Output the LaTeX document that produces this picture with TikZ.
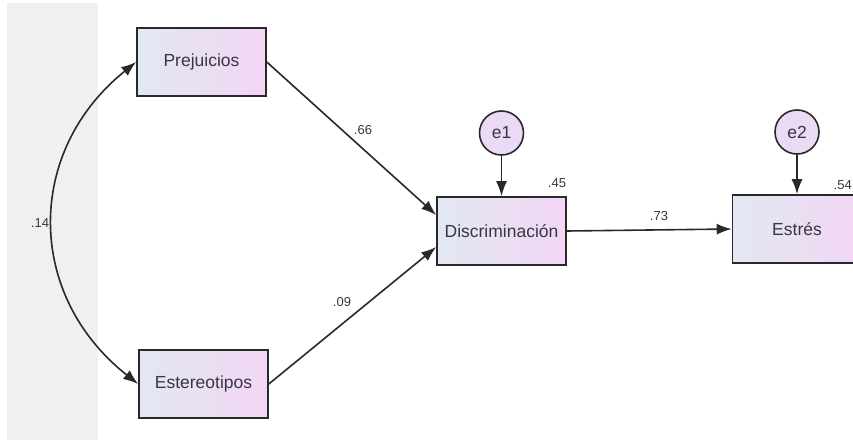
\documentclass[tikz,border=0pt]{standalone}
\usepackage{fontspec}
\setmainfont{Liberation Sans}
\usetikzlibrary{arrows.meta}
\definecolor{stripgrey}{RGB}{240,240,240}
\definecolor{boxleft}{RGB}{226,232,242}
\definecolor{boxright}{RGB}{242,214,244}
\definecolor{circfill}{RGB}{234,218,244}
\definecolor{edgecol}{RGB}{40,40,45}
\definecolor{txtcol}{RGB}{55,55,65}
\tikzset{
  varbox/.style={draw=edgecol, line width=1.6pt, left color=boxleft, right color=boxright,
    minimum width=129pt, minimum height=68pt, inner sep=0pt, text=txtcol,
    font=\fontsize{17.5}{20}\selectfont},
  errcirc/.style={draw=edgecol, line width=1.6pt, circle, fill=circfill, minimum size=44pt,
    inner sep=0pt, text=txtcol, font=\fontsize{17.5}{20}\selectfont},
  path/.style={draw=edgecol, line width=1.6pt, -{Latex[length=15pt,width=11pt]}},
  coef/.style={text=txtcol, font=\fontsize{13}{15}\selectfont, inner sep=0pt}
}
\begin{document}
\begin{tikzpicture}[x=1pt,y=-1pt]
\useasboundingbox (0,0) rectangle (853,441);
\clip (0,0) rectangle (853,441);
\fill[stripgrey] (7,3) rectangle (98,440);
\node[varbox] (P) at (201.5,62) {Prejuicios};
\node[varbox] (E) at (203.5,384) {Estereotipos};
\node[varbox] (D) at (501.5,231) {Discriminación};
\node[varbox] (S) at (797,229) {Estrés};
\node[errcirc] (e1) at (501.5,133) {e1};
\node[errcirc] (e2) at (797,132) {e2};
\draw[draw=edgecol, line width=1.6pt, {Latex[length=15pt,width=11pt]}-{Latex[length=15pt,width=11pt]}]
  (P.west) .. controls +(-111,89) and +(-113,-89) .. (E.west);
\draw[path] (P.east) -- ([yshift=16pt]D.west);
\draw[path] (E.east) -- ([yshift=-16pt]D.west);
\draw[path] (D.east) -- (S.west);
\draw[path] (e1.south) -- (D.north);
\draw[path] (e2.south) -- (S.north);
\node[coef] (c14) at (40,223) {.14};
\node[coef] (c66) at (363,130) {.66};
\node[coef] (c09) at (342,302) {.09};
\node[coef] (c73) at (659,216) {.73};
\node[coef] (c45) at (557,183) {.45};
\node[coef, anchor=east] (c54) at (852,185) {.54};
\end{tikzpicture}
\end{document}
